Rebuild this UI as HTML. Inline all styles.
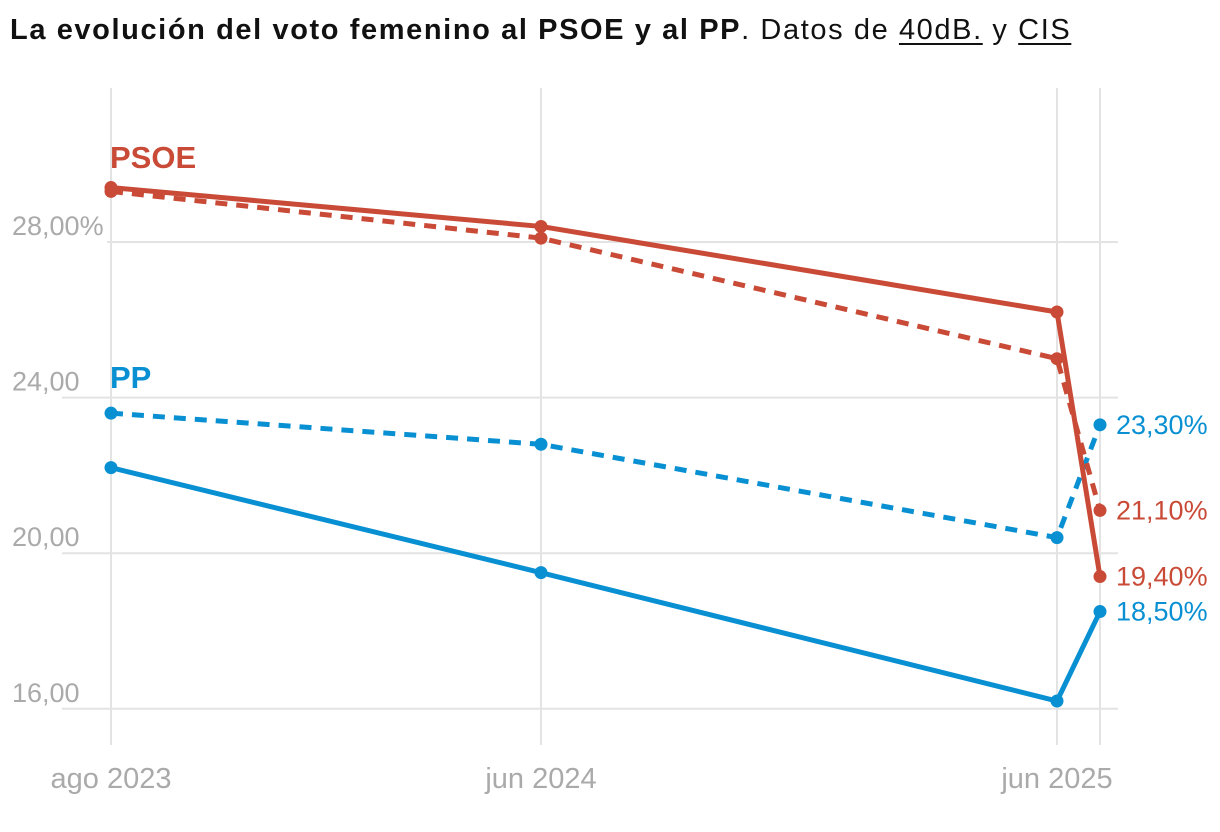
<!DOCTYPE html>
<html><head><meta charset="utf-8"><style>
body{margin:0;background:#fff;width:1220px;height:832px;overflow:hidden;font-family:"Liberation Sans",sans-serif}
#title{position:absolute;left:10px;top:14px;font-size:29px;color:#111;white-space:nowrap;letter-spacing:1.6px}
#title b{font-weight:bold}
#title u{text-decoration:underline;text-underline-offset:4px}
</style></head><body>
<div id="title"><b>La evolución del voto femenino al PSOE y al PP</b>. Datos de <u>40dB.</u> y <u>CIS</u></div>
<svg id="chart" width="1220" height="832" style="position:absolute;left:0;top:0"></svg>
<script>
const months=[0,10,22,23]; // months since ago 2023
const xTickMonths=[0,10,22];
const xTickLabels=["ago 2023","jun 2024","jun 2025"];
const yTicks=[16,20,24,28];
const yTickLabels=["16,00","20,00","24,00","28,00%"];
const psoeSolid=[29.4,28.4,26.2,19.4];
const psoeDashed=[29.3,28.1,25.0,21.1];
const ppDashed=[23.6,22.8,20.4,23.3];
const ppSolid=[22.2,19.5,16.2,18.5];
const endLabels=["23,30%","21,10%","19,40%","18,50%"];
const RED="#c94b37",BLUE="#0990d2";
const x=m=>111+m*43;
const y=v=>242+(28-v)*38.9;
const svg=document.getElementById('chart');const NS="http://www.w3.org/2000/svg";
function mk(t,a){const e=document.createElementNS(NS,t);for(const k in a)e.setAttribute(k,a[k]);svg.appendChild(e);return e;}
months.forEach((m,i)=>{const e=mk('line',{x1:x(m),x2:x(m),y1:88,y2:745,stroke:'#e3e3e3','stroke-width':2});

});
yTicks.forEach((v,i)=>{const e=mk('line',{x1:i==3?107:62,x2:1118,y1:y(v),y2:y(v),stroke:'#e3e3e3','stroke-width':2});


const t=mk('text',{x:12,y:y(v)-7,fill:'#aaa','font-size':27});t.textContent=yTickLabels[i];

});
xTickMonths.forEach((m,i)=>{const t=mk('text',{x:x(m),y:788,fill:'#aaa','font-size':29,'text-anchor':'middle'});t.textContent=xTickLabels[i];

});
function series(vals,col,dash,name){const pts=vals.map((v,i)=>x(months[i])+','+y(v)).join(' ');
const p=mk('polyline',{points:pts,fill:'none',stroke:col,'stroke-width':5,'stroke-dasharray':dash?'12 9':'none','stroke-linejoin':'round'});


vals.forEach((v,i)=>{const c=mk('circle',{cx:x(months[i]),cy:y(v),r:6.5,fill:col});

});}
series(ppSolid,BLUE,false,'pp-cis');
series(ppDashed,BLUE,true,'pp-40db');
series(psoeDashed,RED,true,'psoe-40db');
series(psoeSolid,RED,false,'psoe-cis');
const endVals=[ppDashed[3],psoeDashed[3],psoeSolid[3],ppSolid[3]];
const endCols=[BLUE,RED,RED,BLUE];
endVals.forEach((v,i)=>{const t=mk('text',{x:1116,y:y(v)+9,fill:endCols[i],'font-size':27});t.textContent=endLabels[i];

});
let t=mk('text',{x:110,y:168,fill:RED,'font-size':31,'font-weight':'bold'});t.textContent='PSOE';


t=mk('text',{x:110,y:388,fill:BLUE,'font-size':31,'font-weight':'bold'});t.textContent='PP';


</script>
</body></html>
